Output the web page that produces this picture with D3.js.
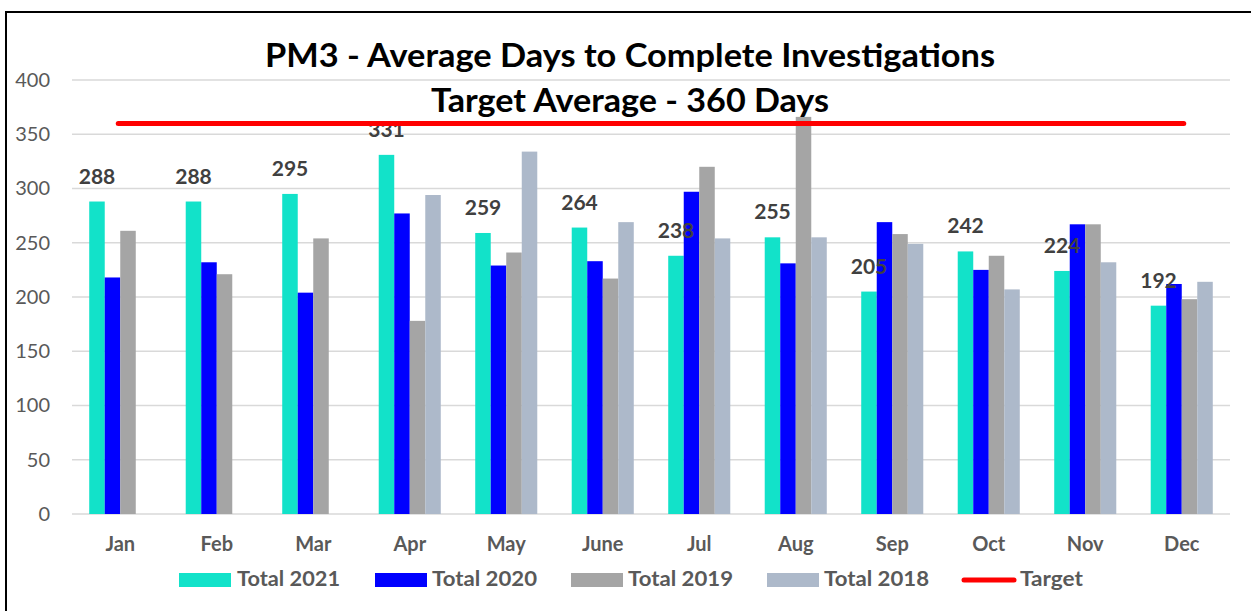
<!DOCTYPE html>
<html>
<head>
<meta charset="utf-8">
<script src="https://cdn.jsdelivr.net/npm/d3@7"></script>
<style>
  html, body { margin: 0; padding: 0; background: #fff; }
  svg { display: block; font-family: Lato, "Open Sans", sans-serif; }
</style>
</head>
<body>
<svg id="chart" width="1251" height="611"></svg>
<script>
// ---- data ----
const months = ["Jan","Feb","Mar","Apr","May","June","Jul","Aug","Sep","Oct","Nov","Dec"];
const seriesNames = ["Total 2021","Total 2020","Total 2019","Total 2018"];
const total2021 = [288,288,295,331,259,264,238,255,205,242,224,192];
const total2020 = [218,232,204,277,229,233,297,231,269,225,267,212];
const total2019 = [261,221,254,178,241,217,320,366,258,238,267,198];
const total2018 = [null,null,null,294,334,269,254,255,249,207,232,214];
const targetValue = 360;
const yTicks = [0,50,100,150,200,250,300,350,400];
const titleLines = ["PM3 - Average Days to Complete Investigations","Target Average - 360 Days"];

const seriesValues = [total2021,total2020,total2019,total2018];
const colors = ["#12E2C9","#0000FF","#A5A5A5","#ADB9CA"];

const svg = d3.select("#chart");

// frame (top & left visible)
svg.append("rect").attr("x",6).attr("y",12).attr("width",1300).attr("height",700)
  .attr("fill","none").attr("stroke","#000").attr("stroke-width",2);

const x = d3.scaleBand().domain(months).range([72,1230]).paddingInner(0.357).paddingOuter(0.1785);
const xs = d3.scaleBand().domain(seriesNames).range([0, x.bandwidth()]);
const y = d3.scaleLinear().domain([0,400]).range([514,80]);

// gridlines
svg.append("g").selectAll("line").data(yTicks).join("line")
  .attr("x1",72).attr("x2",1230)
  .attr("y1",d=>y(d)).attr("y2",d=>y(d))
  .attr("stroke","#D9D9D9").attr("stroke-width",1.5);

// y axis labels
const yAxis = d3.axisLeft(y).tickValues(yTicks).tickSize(0).tickPadding(0);
const yg = svg.append("g").attr("transform","translate(50,0)").call(yAxis);
yg.select(".domain").remove();
yg.selectAll("text").attr("fill","#595959").attr("font-size",20).attr("font-family","Lato, sans-serif");

// x axis labels
const xAxis = d3.axisBottom(x).tickSize(0).tickPadding(0);
const xg = svg.append("g").attr("transform","translate(0,537)").call(xAxis);
xg.select(".domain").remove();
xg.selectAll("text").attr("fill","#595959").attr("font-size",20).attr("font-weight","bold")
  .attr("font-family","Lato, sans-serif").attr("dy","0.71em");

// bars
const barData = [];
months.forEach((m,i)=>{
  seriesNames.forEach((s,j)=>{
    const v = seriesValues[j][i];
    if (v != null) barData.push({m, s, v, c: colors[j]});
  });
});
svg.append("g").selectAll("rect").data(barData).join("rect")
  .attr("x", d=>x(d.m)+xs(d.s))
  .attr("width", xs.bandwidth())
  .attr("y", d=>y(d.v))
  .attr("height", d=>y(0)-y(d.v))
  .attr("fill", d=>d.c);

// data labels for 2021
svg.append("g").selectAll("text").data(months).join("text")
  .attr("x", (m)=>x(m)+xs("Total 2021")+xs.bandwidth()/2)
  .attr("y", (m,i)=>y(total2021[i]) - 18)
  .attr("text-anchor","middle")
  .attr("font-size",21).attr("font-weight","bold").attr("fill","#404040")
  .text((m,i)=>total2021[i]);

// target line
svg.append("line")
  .attr("x1", x(months[0]) + x.bandwidth()/2 - 2)
  .attr("x2", x(months[months.length-1]) + x.bandwidth()/2 + 2)
  .attr("y1", y(targetValue)).attr("y2", y(targetValue))
  .attr("stroke","#FF0000").attr("stroke-width",5).attr("stroke-linecap","round");

// titles
svg.append("text").attr("x",630).attr("y",67).attr("text-anchor","middle")
  .attr("font-size",32).attr("font-weight","bold").attr("fill","#000")
  .attr("textLength",730).attr("lengthAdjust","spacingAndGlyphs")
  .text(titleLines[0]);
svg.append("text").attr("x",630).attr("y",112).attr("text-anchor","middle")
  .attr("font-size",32).attr("font-weight","bold").attr("fill","#000")
  .attr("textLength",398).attr("lengthAdjust","spacingAndGlyphs")
  .text(titleLines[1]);

// legend
const legendItems = [
  {name: seriesNames[0], c: colors[0], sx: 179, tx: 237, tw: 103, type:"rect"},
  {name: seriesNames[1], c: colors[1], sx: 375, tx: 432, tw: 105, type:"rect"},
  {name: seriesNames[2], c: colors[2], sx: 571, tx: 628, tw: 105, type:"rect"},
  {name: seriesNames[3], c: colors[3], sx: 767, tx: 824, tw: 105, type:"rect"},
  {name: "Target", c: "#FF0000", sx: 961, tx: 1020, tw: 63, type:"line"}
];
const lg = svg.append("g");
legendItems.forEach(it=>{
  if (it.type === "rect") {
    lg.append("rect").attr("x",it.sx).attr("y",573).attr("width",52).attr("height",14).attr("fill",it.c);
  } else {
    lg.append("line").attr("x1",it.sx+3).attr("x2",it.sx+53).attr("y1",580).attr("y2",580)
      .attr("stroke",it.c).attr("stroke-width",5).attr("stroke-linecap","round");
  }
  lg.append("text").attr("x",it.tx).attr("y",586)
    .attr("font-size",20).attr("font-weight","bold").attr("fill","#595959")
    .attr("textLength",it.tw).attr("lengthAdjust","spacingAndGlyphs")
    .text(it.name);
});
</script>
</body>
</html>
